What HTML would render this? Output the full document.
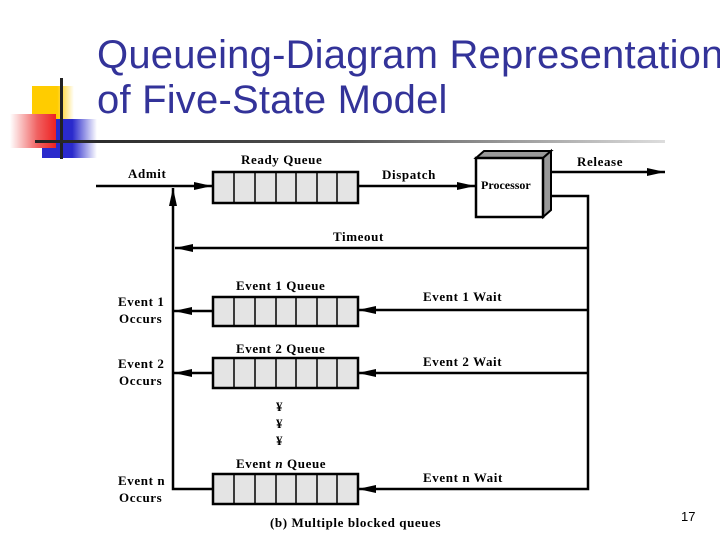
<!DOCTYPE html>
<html><head><style>
body{margin:0;width:720px;height:540px;background:#fff;overflow:hidden;position:relative;font-family:"Liberation Sans",sans-serif}
.t{position:absolute;left:97px;color:#333399;font-size:40px;white-space:nowrap;letter-spacing:0.2px}
</style></head><body>
<div style="position:absolute;left:32px;top:86px;width:42px;height:36px;background:linear-gradient(90deg,#ffcc00 60%,#fff)"></div>
<div style="position:absolute;left:42px;top:119px;width:55px;height:39px;background:linear-gradient(90deg,#2a2acc 55%,#fff)"></div>
<div style="position:absolute;left:10px;top:114px;width:46px;height:34px;background:linear-gradient(90deg,#fff,#f06060 60%,#ee2222)"></div>
<div style="position:absolute;left:60px;top:78px;width:3px;height:81px;background:#222"></div>
<div style="position:absolute;left:35px;top:140px;width:630px;height:3px;background:linear-gradient(90deg,#222,#555 50%,#ddd)"></div>
<div class="t" style="top:33px">Queueing-Diagram Representation</div>
<div class="t" style="top:78px">of Five-State Model</div>
<svg width="720" height="540" style="position:absolute;left:0;top:0" font-family="Liberation Serif,serif" font-weight="bold" font-size="13" letter-spacing="0.6">
<defs>
<marker id="b" markerWidth="20" markerHeight="10" refX="18" refY="4" orient="auto" markerUnits="userSpaceOnUse"><path d="M0,0L18,4L0,8z" fill="#000"/></marker></defs>
<g stroke="#000" stroke-width="2.5" fill="none">
<line x1="96" y1="186" x2="212" y2="186" marker-end="url(#b)"/>
<line x1="358" y1="186" x2="475" y2="186" marker-end="url(#b)"/>
<line x1="548" y1="172" x2="665" y2="172" marker-end="url(#b)"/>
<polyline points="548,196 588,196 588,489 358,489" marker-end="url(#b)"/>
<line x1="588" y1="248" x2="175" y2="248" marker-end="url(#b)"/>
<line x1="588" y1="310" x2="358" y2="310" marker-end="url(#b)"/>
<line x1="588" y1="373" x2="358" y2="373" marker-end="url(#b)"/>
<polyline points="213,489 173,489 173,188" marker-end="url(#b)"/>
<line x1="213" y1="311" x2="174" y2="311" marker-end="url(#b)"/>
<line x1="213" y1="373" x2="174" y2="373" marker-end="url(#b)"/>
</g>
<g fill="#e4e4e4" stroke="#000" stroke-width="2.5">
<rect x="213" y="172" width="145" height="31"/>
<rect x="213" y="297" width="145" height="29"/>
<rect x="213" y="358" width="145" height="30"/>
<rect x="213" y="474" width="145" height="30"/>
</g>
<g stroke="#000" stroke-width="1.5">
<path d="M234,172V203M255,172V203M276,172V203M296,172V203M317,172V203M337,172V203"/>
<path d="M234,297V326M255,297V326M276,297V326M296,297V326M317,297V326M337,297V326"/>
<path d="M234,358V388M255,358V388M276,358V388M296,358V388M317,358V388M337,358V388"/>
<path d="M234,474V504M255,474V504M276,474V504M296,474V504M317,474V504M337,474V504"/>
</g>
<path d="M476,158L484,151L551,151L543,158Z" fill="#999" stroke="#000" stroke-width="2"/>
<path d="M543,158L551,151L551,210L543,217Z" fill="#999" stroke="#000" stroke-width="2"/>
<rect x="476" y="158" width="67" height="59" fill="#fff" stroke="#000" stroke-width="2.5"/>
<text x="481" y="189" font-size="12" letter-spacing="0">Processor</text>
<text x="128" y="178">Admit</text>
<text x="241" y="164">Ready Queue</text>
<text x="382" y="179">Dispatch</text>
<text x="577" y="166">Release</text>
<text x="333" y="241">Timeout</text>
<text x="236" y="290">Event 1 Queue</text>
<text x="236" y="353">Event 2 Queue</text>
<text x="236" y="468">Event <tspan font-style="italic">n</tspan> Queue</text>
<text x="423" y="301">Event 1 Wait</text>
<text x="423" y="366">Event 2 Wait</text>
<text x="423" y="482">Event n Wait</text>
<text x="118" y="306">Event 1</text><text x="119" y="323">Occurs</text>
<text x="118" y="368">Event 2</text><text x="119" y="385">Occurs</text>
<text x="118" y="485">Event n</text><text x="119" y="502">Occurs</text>
<text x="276" y="411">¥</text><text x="276" y="428">¥</text><text x="276" y="445">¥</text>
<text x="270" y="527">(b) Multiple blocked queues</text>
<text x="681" y="521" font-family="Liberation Sans,sans-serif" font-weight="normal" font-size="13" letter-spacing="0">17</text>
</svg>
</body></html>
